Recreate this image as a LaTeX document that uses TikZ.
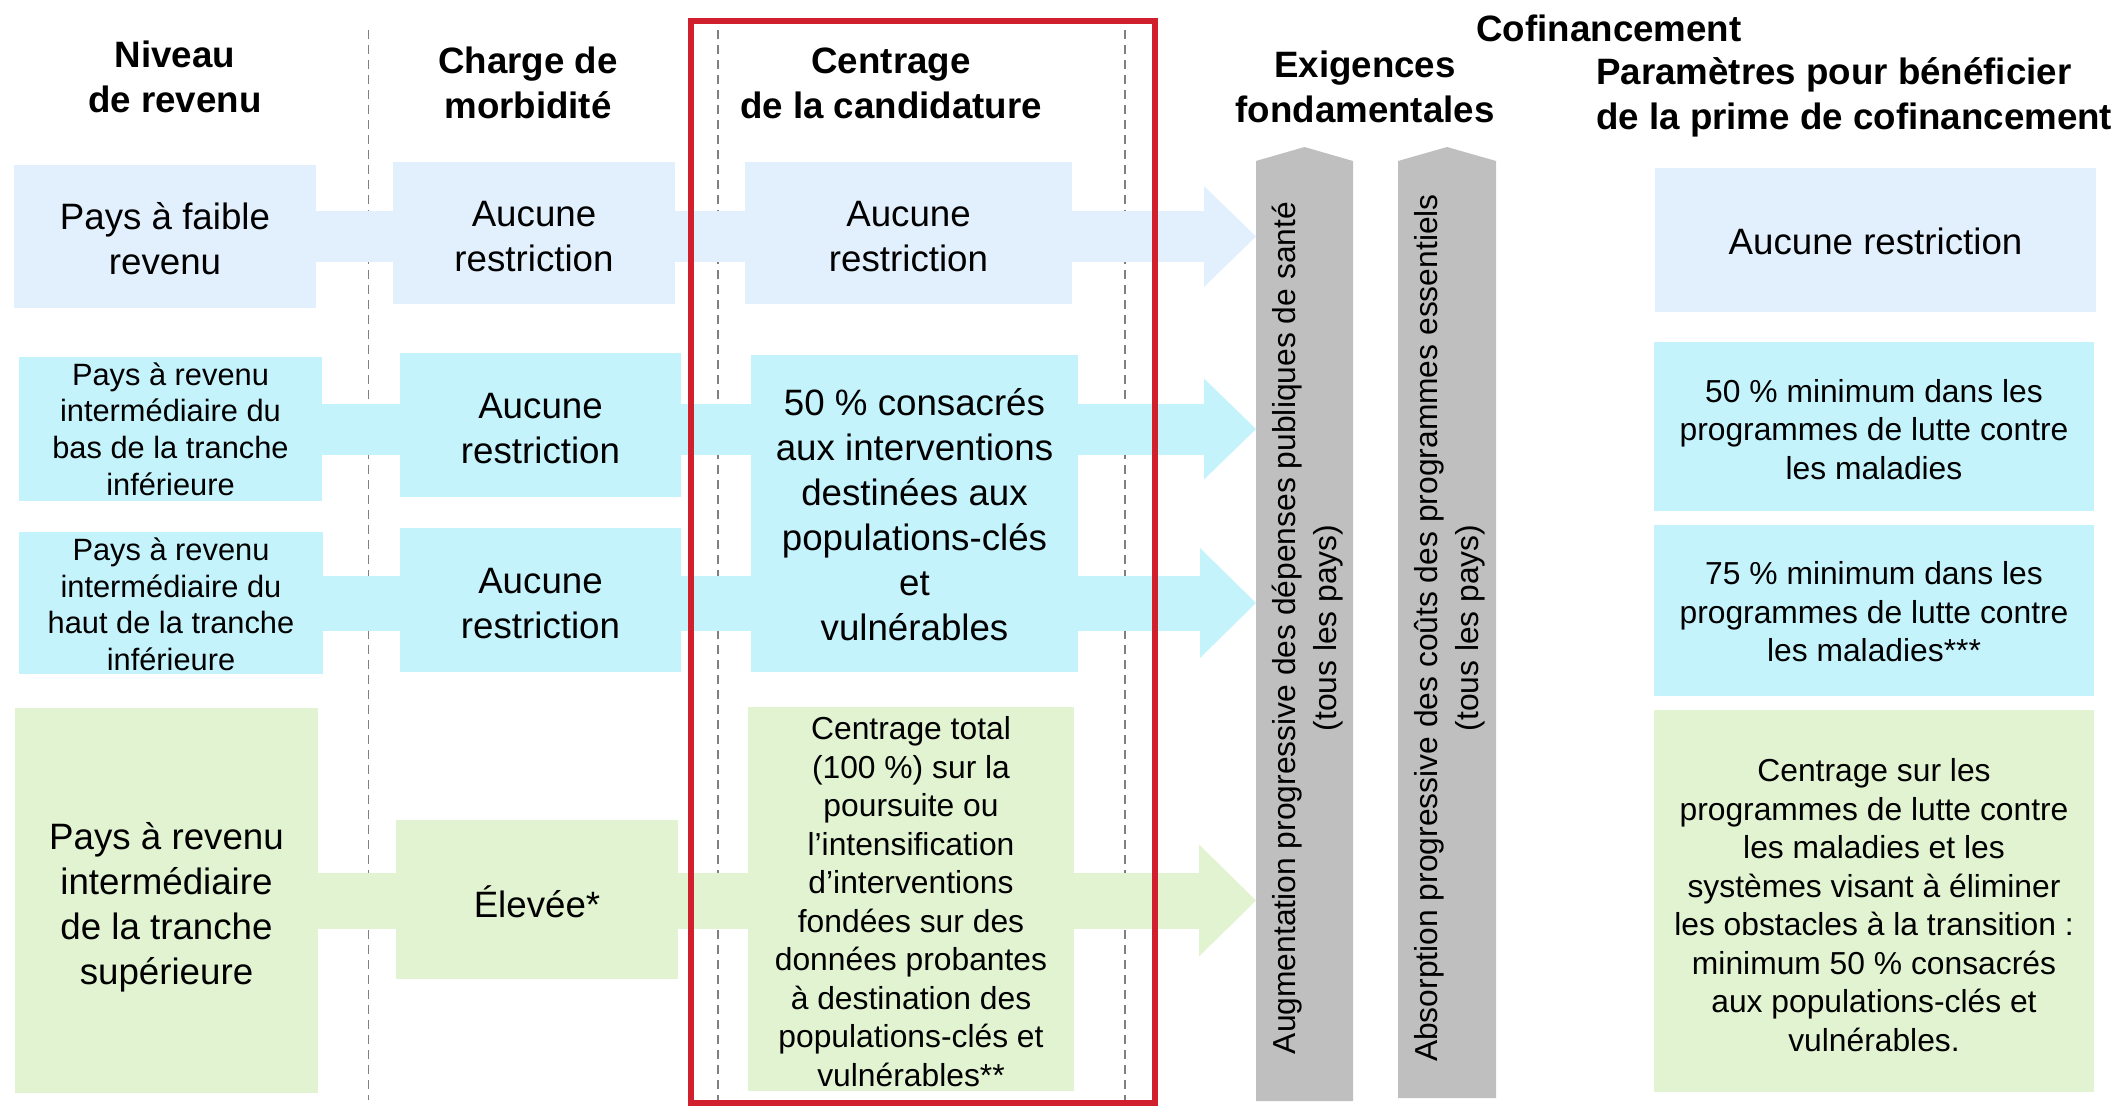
\documentclass[tikz,border=0pt]{standalone}
\usepackage{fontspec}
\setmainfont{Liberation Sans}
\usetikzlibrary{arrows.meta, backgrounds}

\definecolor{paleblue}{RGB}{226,240,253}
\definecolor{palecyan}{RGB}{197,243,252}
\definecolor{palegreen}{RGB}{225,243,209}
\definecolor{reqgray}{RGB}{191,191,191}
\definecolor{focusred}{RGB}{208,32,46}

\newcommand{\bigtxt}{\fontsize{36.7}{45}\selectfont}
\newcommand{\smalltxt}{\fontsize{31.8}{38.5}\selectfont}
\newcommand{\inctxt}{\fontsize{30.8}{36.7}\selectfont}
\newcommand{\headtxt}{\fontsize{36.7}{45}\selectfont\bfseries}
\newcommand{\vtxt}{\fontsize{31.8}{41}\selectfont}
% invisible strut that pushes the first line of a box down a little
\newcommand{\topstrut}[1]{\rule{0pt}{#1}}

\begin{document}
\begin{tikzpicture}[x=1pt, y=-1pt,
    box/.style={inner sep=0pt, align=center, font=\bigtxt},
    smallbox/.style={box, font=\smalltxt},
    head/.style={inner sep=0pt, align=center, font=\headtxt},
    vtext/.style={inner sep=0pt, align=center, rotate=90, font=\vtxt},
    divider/.style={gray, line width=1.5pt, dash pattern=on 9pt off 6pt},
    band/.style n args={4}{draw=#1, line width=#2,
        -{Triangle[length=#3, width=#4, line width=0pt]}}]

    \useasboundingbox (0,0) rectangle (2121,1106);

    % column headings:
    \node[head] (hinc) at (175,77) {Niveau\\de revenu};
    \node[head] (hbur) at (528,83) {Charge de\\morbidité};
    \node[head] (hfoc) at (891,83) {Centrage\\de la candidature};
    \node[head] (hreq) at (1365,86.5) {Exigences\\fondamentales};
    \node[head] (hcof) at (1609,28.5) {Cofinancement};
    \node[head, anchor=west, align=left] (hpar) at (1596,97.5) {Paramètres pour bénéficier\\de la prime de cofinancement};

    % income level:
    \node[box, fill=paleblue, minimum width=302pt, minimum height=143pt] (inc1) at (165,236.5) {\topstrut{32.2pt}Pays à faible\\revenu};
    \node[box, font=\inctxt, fill=palecyan, minimum width=303pt, minimum height=144pt] (inc2) at (170.5,429) {Pays à revenu\\intermédiaire du\\bas de la tranche\\inférieure};
    \node[box, font=\inctxt, fill=palecyan, minimum width=304pt, minimum height=142pt] (inc3) at (171,603) {\topstrut{25.3pt}Pays à revenu\\intermédiaire du\\haut de la tranche\\inférieure};
    \node[box, fill=palegreen, minimum width=303pt, minimum height=385pt] (inc4) at (166.5,900.5) {\topstrut{40.4pt}Pays à revenu\\intermédiaire\\de la tranche\\supérieure};

    % disease burden:
    \node[box, fill=paleblue, minimum width=282pt, minimum height=142pt] (bur1) at (534,233) {\topstrut{31.7pt}Aucune\\restriction};
    \node[box, fill=palecyan, minimum width=281pt, minimum height=144pt] (bur2) at (540.5,425) {\topstrut{31.7pt}Aucune\\restriction};
    \node[box, fill=palecyan, minimum width=281pt, minimum height=144pt] (bur3) at (540.5,600) {\topstrut{31.7pt}Aucune\\restriction};
    \node[box, fill=palegreen, minimum width=282pt, minimum height=159pt] (bur4) at (537,899.5) {\topstrut{35.8pt}Élevée*};

    % focus of the application:
    \node[box, fill=paleblue, minimum width=327pt, minimum height=142pt] (foc1) at (908.5,233) {\topstrut{31.7pt}Aucune\\restriction};
    \node[box, fill=palecyan, minimum width=327pt, minimum height=317pt] (foc2) at (914.5,513.5) {\topstrut{29.6pt}50 \% consacrés\\aux interventions\\destinées aux\\populations-clés\\et\\vulnérables};
    \node[smallbox, fill=palegreen, minimum width=326pt, minimum height=384pt] (foc4) at (911,899) {\topstrut{28.6pt}Centrage total\\(100 \%) sur la\\poursuite ou\\l’intensification\\d’interventions\\fondées sur des\\données probantes\\à destination des\\populations-clés et\\vulnérables**};

    % parameters for the co-financing incentive:
    \node[box, fill=paleblue, minimum width=441pt, minimum height=144pt] (par1) at (1875.5,240) {\topstrut{29.1pt}Aucune restriction};
    \node[smallbox, fill=palecyan, minimum width=440pt, minimum height=169pt] (par2) at (1874,426.5) {\topstrut{28.6pt}50 \% minimum dans les\\programmes de lutte contre\\les maladies};
    \node[smallbox, fill=palecyan, minimum width=440pt, minimum height=171pt] (par3) at (1874,610.5) {\topstrut{26pt}75 \% minimum dans les\\programmes de lutte contre\\les maladies***};
    \node[smallbox, fill=palegreen, minimum width=440pt, minimum height=382pt] (par4) at (1874,901) {\topstrut{31.2pt}Centrage sur les\\programmes de lutte contre\\les maladies et les\\systèmes visant à éliminer\\les obstacles à la transition :\\minimum 50 \% consacrés\\aux populations-clés et\\vulnérables.};

    % the two grey columns of core requirements:
    \fill[reqgray] (1256,1101) -- (1256,161) -- (1304.5,147) -- (1353,161) -- (1353,1101) -- cycle;
    \fill[reqgray] (1398,1098) -- (1398,161) -- (1447,147) -- (1496,161) -- (1496,1098) -- cycle;
    \node[vtext] (req1) at (1308,628) {Augmentation progressive des dépenses publiques de santé\\(tous les pays)};
    \node[vtext] (req2) at (1450,628) {Absorption progressive des coûts des programmes essentiels\\(tous les pays)};
    \coordinate (req1w) at (1256,628);

    % dashed separators behind everything:
    \begin{scope}[on background layer]
        \foreach \x in {368.5,718,1125}
            \draw[divider] (\x,30) -- (\x,1100);
    \end{scope}

    % wide arrows from each income level to the requirements:
    \begin{scope}[on background layer]
        \draw[band={paleblue}{51pt}{52pt}{101pt}] (inc1.east) -- (inc1.east -| req1w);
        \draw[band={palecyan}{51pt}{52pt}{101pt}] (inc2.east) -- (inc2.east -| req1w);
        \draw[band={palecyan}{55pt}{56pt}{110pt}] (inc3.east) -- (inc3.east -| req1w);
        \draw[band={palegreen}{56pt}{57pt}{112pt}] (inc4.east) -- (inc4.east -| req1w);
    \end{scope}

    % red frame round the focus column:
    \draw[focusred, line width=6pt] (691,21) rectangle (1155,1103);

\end{tikzpicture}
\end{document}
